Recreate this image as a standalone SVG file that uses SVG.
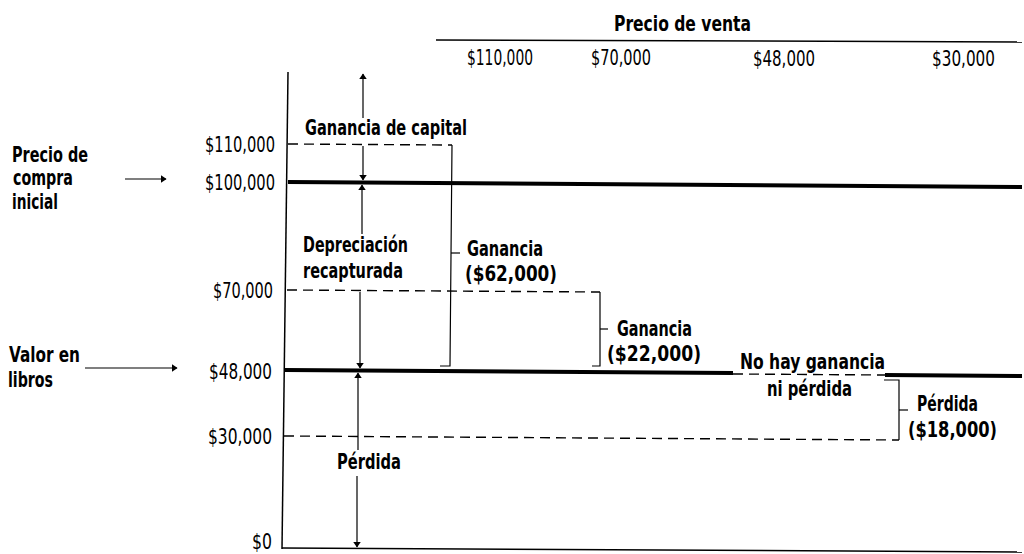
<svg xmlns="http://www.w3.org/2000/svg" width="1024" height="554" viewBox="0 0 1024 554">
<defs>
<marker id="ah" viewBox="0 0 10 10" refX="9" refY="5" markerWidth="6" markerHeight="8" orient="auto-start-reverse" markerUnits="userSpaceOnUse" preserveAspectRatio="none">
<path d="M0,0 L10,5 L0,10 z" fill="#000"/>
</marker>
<style>
.b{font-family:"DejaVu Sans Condensed","DejaVu Sans",sans-serif;font-weight:bold;font-size:21px;fill:#000}
.n{font-family:"DejaVu Sans Condensed","DejaVu Sans",sans-serif;font-size:22px;fill:#000}
.ax{stroke:#000;stroke-width:1.5;fill:none}
.thick{stroke:#000;stroke-width:4;fill:none}
.dash{stroke:#000;stroke-width:1.4;stroke-dasharray:10,6;fill:none}
.br{stroke:#000;stroke-width:1.2;fill:none}
.arr{stroke:#000;stroke-width:1.2;fill:none}
</style>
</defs>
<rect width="1024" height="554" fill="#fff"/>
<g id="header">
<text class="b" x="614" y="31" textLength="137" lengthAdjust="spacingAndGlyphs">Precio de venta</text>
<line class="ax" x1="436" y1="40" x2="1022" y2="42" stroke-width="1"/>
<text class="n" x="467" y="65" textLength="66" lengthAdjust="spacingAndGlyphs">$110,000</text>
<text class="n" x="591" y="65" textLength="60" lengthAdjust="spacingAndGlyphs">$70,000</text>
<text class="n" x="753" y="66" textLength="62" lengthAdjust="spacingAndGlyphs">$48,000</text>
<text class="n" x="932" y="66" textLength="63" lengthAdjust="spacingAndGlyphs">$30,000</text>
</g>
<g id="axes">
<line class="ax" x1="288" y1="72" x2="282" y2="549"/>
<line class="ax" x1="282" y1="548" x2="1022" y2="552"/>
<text class="n" x="205" y="152" textLength="70" lengthAdjust="spacingAndGlyphs">$110,000</text>
<text class="n" x="205" y="190" textLength="70" lengthAdjust="spacingAndGlyphs">$100,000</text>
<text class="n" x="213" y="298" textLength="60" lengthAdjust="spacingAndGlyphs">$70,000</text>
<text class="n" x="209" y="379" textLength="63" lengthAdjust="spacingAndGlyphs">$48,000</text>
<text class="n" x="208" y="444" textLength="64" lengthAdjust="spacingAndGlyphs">$30,000</text>
<text class="n" x="252" y="549" textLength="20" lengthAdjust="spacingAndGlyphs">$0</text>
</g>
<g id="purchase-price">
<text class="b" x="12" y="162" textLength="76" lengthAdjust="spacingAndGlyphs">Precio de</text>
<text class="b" x="13" y="185" textLength="60" lengthAdjust="spacingAndGlyphs">compra</text>
<text class="b" x="12" y="209" textLength="46" lengthAdjust="spacingAndGlyphs">inicial</text>
</g>
<g id="book-value">
<text class="b" x="9" y="362" textLength="71" lengthAdjust="spacingAndGlyphs">Valor en</text>
<text class="b" x="8" y="387" textLength="45" lengthAdjust="spacingAndGlyphs">libros</text>
</g>
<g id="levels">
<line class="thick" x1="288" y1="182" x2="1022" y2="187"/>
<line class="thick" x1="285" y1="370" x2="733" y2="373"/>
<line class="dash" x1="733" y1="374" x2="885" y2="375"/>
<line class="thick" x1="885" y1="375" x2="1022" y2="376"/>
<line class="dash" x1="288" y1="144" x2="452" y2="145"/>
<line class="dash" x1="287" y1="290" x2="600" y2="292"/>
<line class="dash" x1="284" y1="436" x2="899" y2="440"/>
</g>
<g id="labels">
<text class="b" x="305" y="135" textLength="162" lengthAdjust="spacingAndGlyphs">Ganancia de capital</text>
<text class="b" x="303" y="252" textLength="105" lengthAdjust="spacingAndGlyphs">Depreciación</text>
<text class="b" x="303" y="278" textLength="100" lengthAdjust="spacingAndGlyphs">recapturada</text>
<text class="b" x="467" y="256" textLength="76" lengthAdjust="spacingAndGlyphs">Ganancia</text>
<text class="b" x="465" y="281" textLength="92" lengthAdjust="spacingAndGlyphs">($62,000)</text>
<text class="b" x="617" y="336" textLength="75" lengthAdjust="spacingAndGlyphs">Ganancia</text>
<text class="b" x="607" y="361" textLength="94" lengthAdjust="spacingAndGlyphs">($22,000)</text>
<text class="b" x="740" y="369" textLength="145" lengthAdjust="spacingAndGlyphs">No hay ganancia</text>
<text class="b" x="767" y="396" textLength="85" lengthAdjust="spacingAndGlyphs">ni pérdida</text>
<text class="b" x="917" y="411" textLength="61" lengthAdjust="spacingAndGlyphs">Pérdida</text>
<text class="b" x="908" y="437" textLength="89" lengthAdjust="spacingAndGlyphs">($18,000)</text>
<text class="b" x="337" y="469" textLength="64" lengthAdjust="spacingAndGlyphs">Pérdida</text>
</g>
<g id="connectors">
<line class="arr" x1="125" y1="179" x2="166" y2="179" marker-end="url(#ah)" stroke-width="1"/>
<line class="arr" x1="85" y1="368" x2="177" y2="368" marker-end="url(#ah)" stroke-width="1"/>
<line class="arr" x1="363" y1="118" x2="363" y2="74" marker-end="url(#ah)"/>
<line class="arr" x1="363" y1="146" x2="363" y2="180" marker-end="url(#ah)"/>
<line class="arr" x1="362" y1="234" x2="362" y2="185" marker-end="url(#ah)"/>
<line class="arr" x1="360" y1="292" x2="360" y2="368" marker-end="url(#ah)"/>
<line class="arr" x1="358" y1="450" x2="358" y2="373" marker-end="url(#ah)"/>
<line class="arr" x1="357" y1="476" x2="357" y2="547" marker-end="url(#ah)"/>
<polyline class="br" points="452,145 450,366 440,366"/>
<line class="br" x1="451" y1="253" x2="460" y2="253"/>
<polyline class="br" points="600,292 600,366 592,366"/>
<line class="br" x1="600" y1="329" x2="608" y2="329"/>
<polyline class="br" points="884,380 899,380 899,440"/>
<line class="br" x1="899" y1="410" x2="908" y2="410"/>
</g>
</svg>
